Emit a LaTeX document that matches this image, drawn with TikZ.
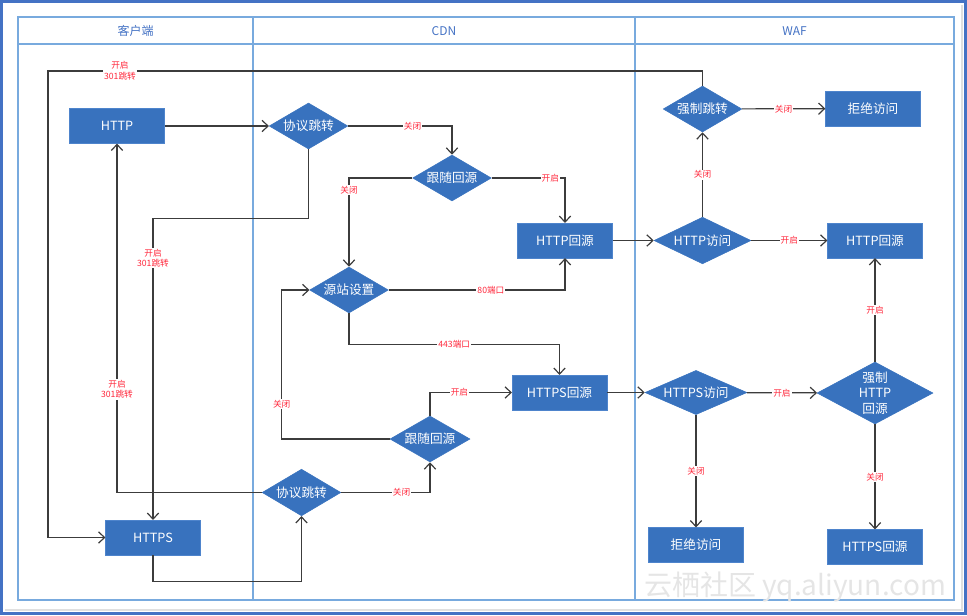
\documentclass[tikz,border=0pt]{standalone}
\usepackage{fontspec}
\setmainfont{Noto Sans CJK SC}
\usetikzlibrary{arrows.meta}
\usetikzlibrary{shapes.geometric}

\definecolor{boxblue}{RGB}{56,114,190}
\definecolor{boxedge}{RGB}{78,132,204}
\definecolor{lanecol}{RGB}{120,170,222}
\definecolor{headcol}{RGB}{68,114,196}
\definecolor{framecol}{RGB}{68,114,196}
\definecolor{lblred}{RGB}{255,40,60}
\definecolor{linecol}{RGB}{60,60,60}

\begin{document}
\begin{tikzpicture}[x=0.75pt,y=0.75pt,yscale=-1,xscale=1,
  procbox/.style={draw=boxedge,fill=boxblue,text=white,minimum width=71pt,minimum height=26pt,inner sep=0pt,font=\fontsize{9.5}{11.5}\selectfont},
  decide/.style={diamond,draw=boxblue,fill=boxblue,text=white,shape aspect=2,inner sep=0pt,minimum width=59pt,minimum height=34.5pt,font=\fontsize{9.5}{11.5}\selectfont,align=center},
  flow/.style={draw=linecol,line width=0.9pt,-{Straight Barb[length=4.5pt,width=8.5pt,line width=0.9pt]}},
  lbl/.style={fill=white,text=lblred,inner sep=0.8pt,font=\fontsize{6.5}{8}\selectfont,align=center},
  lane/.style={draw=lanecol,line width=0.8pt},
  lanehead/.style={text=headcol,font=\fontsize{9}{11}\selectfont}]
\useasboundingbox (0,0) rectangle (967,615);

%Shape: Frame
\draw [draw=framecol,line width=2.2pt] (1.5,1.5) rectangle (965.5,613.5) ;
\draw [draw=black!12,line width=1pt] (962,5) -- (962,610) -- (5,610) ;

%Shape: Swimlanes
\draw [lane] (18,17) rectangle (954,600) ;
\draw [lane] (18,44) -- (954,44) ;
\draw [lane] (253,17) -- (253,600) ;
\draw [lane] (635,17) -- (635,600) ;
% Text Node
\node [lanehead] (laneClient) at (135.5,31) {客户端};
\node [lanehead] (laneCdn) at (444,31) {CDN};
\node [lanehead] (laneWaf) at (794.5,31) {WAF};

% Text Node
\node [text=black!10,font=\fontsize{21}{24}\selectfont] (mark) at (795,587) {云栖社区 yq.aliyun.com};

%Flowchart: Process
\node [procbox] (http) at (117,126) {HTTP};
\node [procbox] (https) at (153,537.5) {HTTPS};
\node [procbox] (cdnHttpBack) at (565,240.5) {HTTP回源};
\node [procbox] (cdnHttpsBack) at (559.5,392.5) {HTTPS回源};
\node [procbox] (wafDenyA) at (873,108.5) {拒绝访问};
\node [procbox] (wafHttpBack) at (875,240.5) {HTTP回源};
\node [procbox] (wafDenyB) at (696,545) {拒绝访问};
\node [procbox] (wafHttpsBack) at (875,547) {HTTPS回源};

%Flowchart: Decision
\node [decide] (cdnSwitchA) at (308.5,126) {协议跳转};
\node [decide] (cdnFollowA) at (452,178) {跟随回源};
\node [decide] (cdnOrigin) at (349,290) {源站设置};
\node [decide,minimum width=60pt] (cdnFollowB) at (430,439) {跟随回源};
\node [decide,minimum height=35pt] (cdnSwitchB) at (301.5,492.5) {协议跳转};
\node [decide] (wafForce) at (702.5,109) {强制跳转};
\node [decide,minimum width=72.75pt,minimum height=35pt] (wafHttp) at (702.5,240.5) {HTTP访问};
\node [decide,minimum width=76.5pt,minimum height=32pt] (wafHttps) at (696,392.5) {HTTPS访问};
\node [decide,shape aspect=1.8,minimum width=87pt,minimum height=46.5pt] (wafForceHttp) at (875,393) {强制\\HTTP\\回源};

\coordinate (loopTop) at (48,71);

%Straight Lines
\draw [flow] (http) -- (cdnSwitchA) ;
\draw [flow] (cdnSwitchA.east) -| node [lbl,pos=0.31] {关闭} (cdnFollowA.north) ;
\draw [flow] (cdnFollowA.west) -| node [lbl,pos=0.57] {关闭} (cdnOrigin.north) ;
\draw [flow] (cdnFollowA.east) -| node [lbl,pos=0.40] {开启} (cdnHttpBack.north) ;
\draw [flow] (cdnOrigin.east) -| node [lbl,pos=0.29] {80端口} (cdnHttpBack.south) ;
\draw [flow] (cdnOrigin.south) -- ++(0,31) -| node [lbl,pos=0.25] {443端口} (cdnHttpsBack.north) ;
\draw [flow] (cdnHttpBack) -- (wafHttp) ;
\draw [flow] (wafHttp.north) -- node [lbl] {关闭} (wafForce.south) ;
\draw [flow] (wafHttp) -- node [lbl] {开启} (wafHttpBack) ;
\draw [flow] (wafForce) -- node [lbl] {关闭} (wafDenyA) ;
\draw [flow] (wafForce.north) |- node [lbl,pos=0.945] {开启\\301跳转} (loopTop) |- (https.west) ;
\draw [flow] (cdnSwitchA.south) -- ++(0,69) -| node [lbl,pos=0.566] {开启\\301跳转} (https.north) ;
\draw [flow] (cdnSwitchB.west) -| node [lbl,pos=0.648] {开启\\301跳转} (http.south) ;
\draw [flow] (cdnSwitchB.east) -| node [lbl,pos=0.34] {关闭} (cdnFollowB.south) ;
\draw [flow] (https.south) -- ++(0,26) -| (cdnSwitchB.south) ;
\draw [flow] (cdnFollowB.west) -- ++(-108,0) |- node [lbl,pos=0.117] {关闭} (cdnOrigin.west) ;
\draw [flow] (cdnFollowB.north) |- node [lbl,pos=0.68] {开启} (cdnHttpsBack.west) ;
\draw [flow] (cdnHttpsBack) -- (wafHttps) ;
\draw [flow] (wafHttps) -- node [lbl] {开启} (wafForceHttp) ;
\draw [flow] (wafHttps.south) -- node [lbl] {关闭} (wafDenyB.north) ;
\draw [flow] (wafForceHttp.north) -- node [lbl] {开启} (wafHttpBack.south) ;
\draw [flow] (wafForceHttp.south) -- node [lbl] {关闭} (wafHttpsBack.north) ;

\end{tikzpicture}
\end{document}
